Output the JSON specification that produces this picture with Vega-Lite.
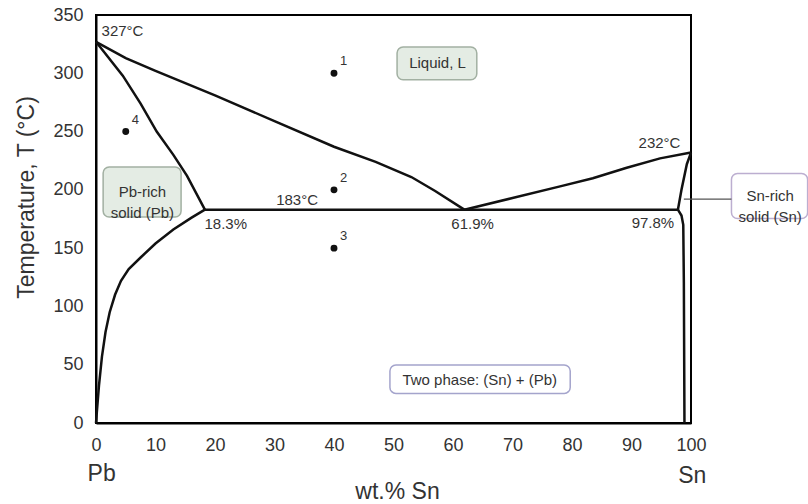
{
  "$schema": "https://vega.github.io/schema/vega-lite/v6.json",
  "width": 595,
  "height": 408,
  "autosize": "none",
  "padding": {"left": 96, "top": 15, "right": 117, "bottom": 81},
  "background": "white",
  "config": {
    "font": "Liberation Sans",
    "view": {"stroke": "black", "strokeWidth": 2},
    "axis": {"grid": false, "ticks": false, "labelFlush": false, "labelOverlap": false, "domainColor": "black", "domainWidth": 2, "labelFont": "Liberation Sans", "labelFontSize": 18, "labelColor": "#333", "titleFont": "Liberation Sans", "titleFontWeight": "normal", "titleFontSize": 23, "titleColor": "#333"}
  },
  "datasets": {
    "curves": [
      {"curve": "left liquidus", "i": 0, "sn": 0, "t": 327},
      {"curve": "left liquidus", "i": 1, "sn": 5, "t": 313},
      {"curve": "left liquidus", "i": 2, "sn": 10, "t": 302},
      {"curve": "left liquidus", "i": 3, "sn": 20, "t": 281},
      {"curve": "left liquidus", "i": 4, "sn": 30, "t": 259},
      {"curve": "left liquidus", "i": 5, "sn": 40, "t": 237},
      {"curve": "left liquidus", "i": 6, "sn": 47, "t": 224},
      {"curve": "left liquidus", "i": 7, "sn": 53, "t": 211},
      {"curve": "left liquidus", "i": 8, "sn": 57, "t": 199},
      {"curve": "left liquidus", "i": 9, "sn": 61.9, "t": 183},
      {"curve": "left solidus", "i": 0, "sn": 0, "t": 327},
      {"curve": "left solidus", "i": 1, "sn": 4.5, "t": 298},
      {"curve": "left solidus", "i": 2, "sn": 7.5, "t": 274},
      {"curve": "left solidus", "i": 3, "sn": 10.2, "t": 250},
      {"curve": "left solidus", "i": 4, "sn": 13, "t": 230},
      {"curve": "left solidus", "i": 5, "sn": 15.3, "t": 212},
      {"curve": "left solidus", "i": 6, "sn": 18.3, "t": 183},
      {"curve": "left solvus", "i": 0, "sn": 18.3, "t": 183},
      {"curve": "left solvus", "i": 1, "sn": 16, "t": 176},
      {"curve": "left solvus", "i": 2, "sn": 13, "t": 166},
      {"curve": "left solvus", "i": 3, "sn": 10, "t": 154},
      {"curve": "left solvus", "i": 4, "sn": 7.5, "t": 142},
      {"curve": "left solvus", "i": 5, "sn": 5.5, "t": 132},
      {"curve": "left solvus", "i": 6, "sn": 4.2, "t": 122},
      {"curve": "left solvus", "i": 7, "sn": 3.2, "t": 110},
      {"curve": "left solvus", "i": 8, "sn": 2.3, "t": 95},
      {"curve": "left solvus", "i": 9, "sn": 1.6, "t": 78},
      {"curve": "left solvus", "i": 10, "sn": 1.0, "t": 57},
      {"curve": "left solvus", "i": 11, "sn": 0.5, "t": 32},
      {"curve": "left solvus", "i": 12, "sn": 0.15, "t": 10},
      {"curve": "left solvus", "i": 13, "sn": 0, "t": 0},
      {"curve": "eutectic", "i": 0, "sn": 18.3, "t": 183},
      {"curve": "eutectic", "i": 1, "sn": 97.8, "t": 183},
      {"curve": "right liquidus", "i": 0, "sn": 61.9, "t": 183},
      {"curve": "right liquidus", "i": 1, "sn": 70, "t": 193},
      {"curve": "right liquidus", "i": 2, "sn": 78, "t": 203},
      {"curve": "right liquidus", "i": 3, "sn": 83.5, "t": 210},
      {"curve": "right liquidus", "i": 4, "sn": 89.2, "t": 219},
      {"curve": "right liquidus", "i": 5, "sn": 94.8, "t": 227},
      {"curve": "right liquidus", "i": 6, "sn": 100, "t": 232},
      {"curve": "right solidus", "i": 0, "sn": 100, "t": 232},
      {"curve": "right solidus", "i": 1, "sn": 99.3, "t": 222},
      {"curve": "right solidus", "i": 2, "sn": 98.4, "t": 200},
      {"curve": "right solidus", "i": 3, "sn": 97.8, "t": 183},
      {"curve": "right solvus", "i": 0, "sn": 97.8, "t": 183},
      {"curve": "right solvus", "i": 1, "sn": 98.4, "t": 178},
      {"curve": "right solvus", "i": 2, "sn": 98.7, "t": 170},
      {"curve": "right solvus", "i": 3, "sn": 98.8, "t": 120},
      {"curve": "right solvus", "i": 4, "sn": 98.9, "t": 0}
    ],
    "points": [
      {"label": "1", "sn": 40, "t": 300},
      {"label": "2", "sn": 40, "t": 200},
      {"label": "3", "sn": 40, "t": 150},
      {"label": "4", "sn": 5, "t": 250}
    ],
    "boxes": [
      {"region": "Liquid, L", "x1": 50.6, "x2": 64.0, "y1": 322.6, "y2": 294.5, "kind": "green"},
      {"region": "Pb-rich solid (Pb)", "x1": 1.2, "x2": 14.3, "y1": 219.6, "y2": 176.7, "kind": "green"},
      {"region": "Sn-rich solid (Sn)", "x1": 106.8, "x2": 119.6, "y1": 214, "y2": 175.5, "kind": "violet"},
      {"region": "Two phase: (Sn) + (Pb)", "x1": 49.4, "x2": 79.7, "y1": 49.8, "y2": 25.4, "kind": "blue"}
    ],
    "boxtext": [
      {"text": ["Liquid, L"], "sn": 57.4, "t": 308.5},
      {"text": ["Pb-rich", "solid (Pb)"], "sn": 7.8, "t": 198},
      {"text": ["Sn-rich", "solid (Sn)"], "sn": 113.3, "t": 194.5},
      {"text": ["Two phase: (Sn) + (Pb)"], "sn": 64.5, "t": 37.3}
    ],
    "notes": [
      {"text": "327°C", "sn": 4.45, "t": 336.5},
      {"text": "183°C", "sn": 33.8, "t": 191.3},
      {"text": "18.3%", "sn": 21.8, "t": 170.7},
      {"text": "61.9%", "sn": 63.3, "t": 170.7},
      {"text": "97.8%", "sn": 93.6, "t": 171.5},
      {"text": "232°C", "sn": 94.7, "t": 239.8}
    ],
    "ends": [
      {"text": "Pb", "sn": 0.95, "t": -43.5},
      {"text": "Sn", "sn": 100.2, "t": -45.5}
    ]
  },
  "layer": [
    {
      "data": {"name": "boxes"},
      "mark": {"type": "rect", "cornerRadius": 6, "strokeWidth": 1.5},
      "encoding": {
        "x": {"field": "x1", "type": "quantitative", "scale": {"domain": [0, 100], "nice": false, "zero": false}, "axis": {"values": [0, 10, 20, 30, 40, 50, 60, 70, 80, 90, 100], "title": "wt.% Sn", "labelPadding": 13, "titleX": 301, "titleY": 68, "titleBaseline": "middle", "titleAlign": "center"}},
        "x2": {"field": "x2"},
        "y": {"field": "y1", "type": "quantitative", "scale": {"domain": [0, 350], "nice": false}, "axis": {"values": [0, 50, 100, 150, 200, 250, 300, 350], "title": "Temperature, T (°C)", "labelPadding": 13, "titleX": -70, "titleY": 182, "titleAngle": -90, "titleBaseline": "middle", "titleAlign": "center"}},
        "y2": {"field": "y2"},
        "fill": {"field": "kind", "type": "nominal", "scale": {"domain": ["green", "violet", "blue"], "range": ["#e4ece4", "#ffffff", "#ffffff"]}, "legend": null},
        "stroke": {"field": "kind", "type": "nominal", "scale": {"domain": ["green", "violet", "blue"], "range": ["#a2b0a2", "#bcaed0", "#a4a4cc"]}, "legend": null}
      }
    },
    {
      "data": {"values": [{"sn": 98.8, "sn2": 106.8, "t": 192}]},
      "mark": {"type": "rule", "color": "#555", "strokeWidth": 1.2},
      "encoding": {
        "x": {"field": "sn", "type": "quantitative"},
        "x2": {"field": "sn2"},
        "y": {"field": "t", "type": "quantitative"}
      }
    },
    {
      "data": {"name": "curves"},
      "mark": {"type": "line", "color": "#111", "strokeWidth": 2.5},
      "encoding": {
        "x": {"field": "sn", "type": "quantitative"},
        "y": {"field": "t", "type": "quantitative"},
        "detail": {"field": "curve", "type": "nominal"},
        "order": {"field": "i", "type": "quantitative"}
      }
    },
    {
      "data": {"name": "points"},
      "mark": {"type": "circle", "color": "#111", "opacity": 1, "size": 48},
      "encoding": {
        "x": {"field": "sn", "type": "quantitative"},
        "y": {"field": "t", "type": "quantitative"}
      }
    },
    {
      "data": {"name": "points"},
      "mark": {"type": "text", "fontSize": 13, "color": "#333", "dx": 6, "dy": -12, "align": "left", "baseline": "middle"},
      "encoding": {
        "x": {"field": "sn", "type": "quantitative"},
        "y": {"field": "t", "type": "quantitative"},
        "text": {"field": "label"}
      }
    },
    {
      "data": {"name": "boxtext"},
      "mark": {"type": "text", "fontSize": 15, "color": "#333", "align": "center", "baseline": "middle", "lineHeight": 21},
      "encoding": {
        "x": {"field": "sn", "type": "quantitative"},
        "y": {"field": "t", "type": "quantitative"},
        "text": {"field": "text"}
      }
    },
    {
      "data": {"name": "notes"},
      "mark": {"type": "text", "fontSize": 15, "color": "#333", "align": "center", "baseline": "middle"},
      "encoding": {
        "x": {"field": "sn", "type": "quantitative"},
        "y": {"field": "t", "type": "quantitative"},
        "text": {"field": "text"}
      }
    },
    {
      "data": {"name": "ends"},
      "mark": {"type": "text", "fontSize": 23, "color": "#333", "align": "center", "baseline": "middle"},
      "encoding": {
        "x": {"field": "sn", "type": "quantitative"},
        "y": {"field": "t", "type": "quantitative"},
        "text": {"field": "text"}
      }
    }
  ]
}
